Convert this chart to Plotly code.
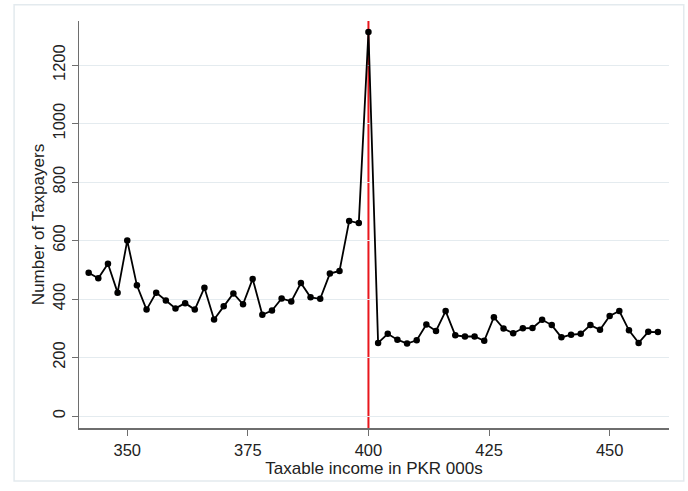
import plotly.graph_objects as go

# Taxable income bins (PKR 000s)
income = list(range(342, 462, 2))
# Number of taxpayers per bin
taxpayers = [
    490, 471, 521, 422, 600, 447, 364, 422, 395, 368,
    386, 364, 439, 330, 375, 419, 382, 469, 346, 361,
    402, 392, 455, 406, 401, 487, 496, 667, 660, 1313,
    250, 281, 261, 248, 259, 313, 291, 359, 276, 272,
    272, 257, 338, 299, 283, 300, 301, 329, 311, 269,
    278, 281, 311, 295, 342, 359, 293, 250, 288, 287,
]
threshold = 400
x_ticks = [350, 375, 400, 425, 450]
y_ticks = [0, 200, 400, 600, 800, 1000, 1200]

FONT = "Liberation Sans, Arial, sans-serif"
GRID = "#e4ebef"
AXIS = "#6e6e6e"

fig = go.Figure()
fig.add_trace(go.Scatter(
    x=income, y=taxpayers, mode="lines+markers",
    line=dict(color="black", width=1.8),
    marker=dict(color="black", size=6.5),
    showlegend=False, hoverinfo="skip",
))

fig.add_shape(type="line", xref="x", yref="paper",
              x0=threshold, x1=threshold, y0=0, y1=1,
              line=dict(color="#e8161c", width=2), layer="between")

# outer frame of the graph region
fig.add_shape(type="rect", xref="paper", yref="paper",
              x0=-0.11, x1=1.025, y0=-0.13, y1=1.04,
              line=dict(color="#e3eaee", width=1.5), layer="below")

fig.update_layout(
    width=688, height=491,
    margin=dict(l=79, r=19, t=21, b=63),
    paper_bgcolor="white", plot_bgcolor="white",
    font=dict(family=FONT, size=16, color="#222222"),
)
fig.update_xaxes(
    range=[340.0, 462.3], tickvals=x_ticks, ticks="outside", ticklen=6,
    tickcolor=AXIS, tickwidth=1.2, showline=True, linecolor=AXIS, linewidth=1.6,
    showgrid=False, zeroline=False,
    tickfont=dict(size=16.5),
    title=dict(text="Taxable income in PKR 000s", standoff=3,
               font=dict(size=17, color="#222222")),
)
fig.update_yaxes(
    range=[-41, 1351], tickvals=y_ticks, ticks="outside", ticklen=6,
    tickcolor=AXIS, tickwidth=1.2, showline=True, linecolor=AXIS, linewidth=1.2,
    showgrid=True, gridcolor=GRID, gridwidth=1, zeroline=False,
    tickangle=-90, tickfont=dict(size=16.5),
    title=dict(text="Number of Taxpayers", standoff=1,
               font=dict(size=17, color="#222222")),
)

fig.write_html("out.html")
